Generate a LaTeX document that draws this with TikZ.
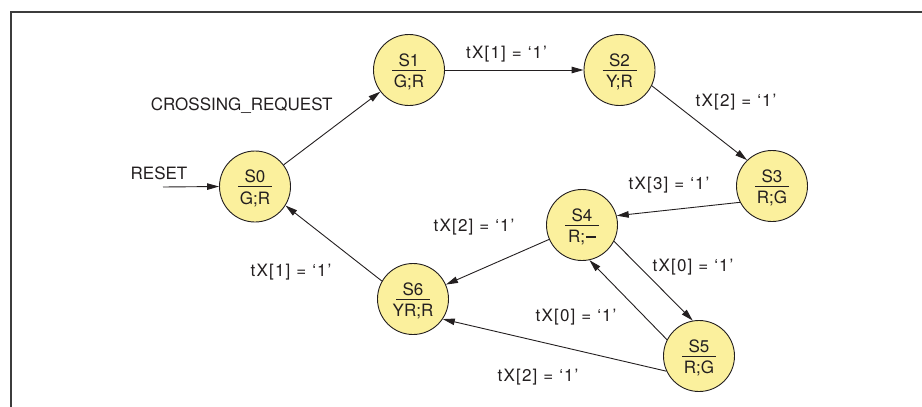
\documentclass[tikz,border=0pt]{standalone}
\usepackage{fontspec}
\setmainfont{TeX Gyre Heros}
\usetikzlibrary{arrows.meta}
\definecolor{statefill}{HTML}{FBF09D}
\definecolor{ink}{HTML}{231F20}
\definecolor{framegray}{HTML}{3C3C3C}

% a state circle with its name above a short rule and its outputs below
\newcommand\fsmstate[5]{%
  \node[state] (#1) at (#2,#3) {};
  \node[stxt, anchor=base] (#1top) at ([yshift=4pt]#1.center) {#4};
  \node[stxt, anchor=base] (#1bot) at ([yshift=-17.5pt]#1.center) {#5};
  \draw[staterule] ([xshift=-17pt]#1.center) -- ([xshift=17pt]#1.center);
}
% transition condition tX[n] = '1', set with open spacing
\newcommand\txcond[1]{t\kern1.2pt X\kern1.2pt[\kern1.2pt #1\kern1.2pt]\hspace{6pt}=\hspace{6pt}‘\kern1pt 1\kern1pt ’}
% the heavy "don't care" dash
\newcommand\dontcare{\kern1pt\rule[4.6pt]{10pt}{1.7pt}}

\begin{document}
\begin{tikzpicture}[x=1pt, y=-1pt,
  every node/.style={font=\fontsize{17}{20}\selectfont, text=ink},
  state/.style={circle, draw=ink, fill=statefill, line width=0.9pt,
                minimum size=71pt, inner sep=0pt},
  stxt/.style={inner sep=0pt},
  staterule/.style={draw=ink, line width=0.9pt},
  lbl/.style={inner sep=0pt, anchor=base},
  trans/.style={draw=ink, line width=0.9pt, -{Triangle[length=12pt, width=6.5pt]}},
  frameline/.style={draw=framegray, line width=1.7pt}]

\useasboundingbox (0,0) rectangle (922,407);
\draw[frameline] (10.8,407) -- (10.8,11.8) -- (922,11.8);

% states
\fsmstate{S0}{255}{186.5}{S0}{G;R}
\fsmstate{S1}{409}{70}{S1}{G;R}
\fsmstate{S2}{619.5}{70}{S2}{Y;R}
\fsmstate{S3}{772}{186}{S3}{R;G}
\fsmstate{S4}{582}{225}{S4}{R;\dontcare}
\fsmstate{S5}{699}{356}{S5}{R;G}
\fsmstate{S6}{413}{299}{S6}{YR;R}

% reset input
\coordinate (rst) at (163,187);
\node[lbl] (reset) at (159,179) {RESET};
\draw[trans] (rst) -- (S0.180);

% transitions
\draw[trans] (S0) -- (S1);
\draw[trans] (S1) -- (S2);
\draw[trans] (S2.-26) -- (S3.134);
\draw[trans] (S3.207) -- (S4.15);
\draw[trans] (S4) -- (S6);
\draw[trans] (S4.333) -- (S5.100);
\draw[trans] (S5.153) -- (S4.282);
\draw[trans] (S5.205) -- (S6.326);
\draw[trans] (S6.150) -- (S0.328);

% transition labels
\node[lbl] (req) at (241.7,110.7) {CROSSING\_REQUEST};
\node[lbl] (c12) at (506.5,58) {\txcond{1}};
\node[lbl] (c23) at (736,106) {\txcond{2}};
\node[lbl] (c34) at (669,189) {\txcond{3}};
\node[lbl] (c46) at (474,231) {\txcond{2}};
\node[lbl] (c60) at (291,276.7) {\txcond{1}};
\node[lbl] (c45) at (693,271.5) {\txcond{0}};
\node[lbl] (c54) at (576,321.5) {\txcond{0}};
\node[lbl] (c56) at (538,381.7) {\txcond{2}};
\end{tikzpicture}
\end{document}
